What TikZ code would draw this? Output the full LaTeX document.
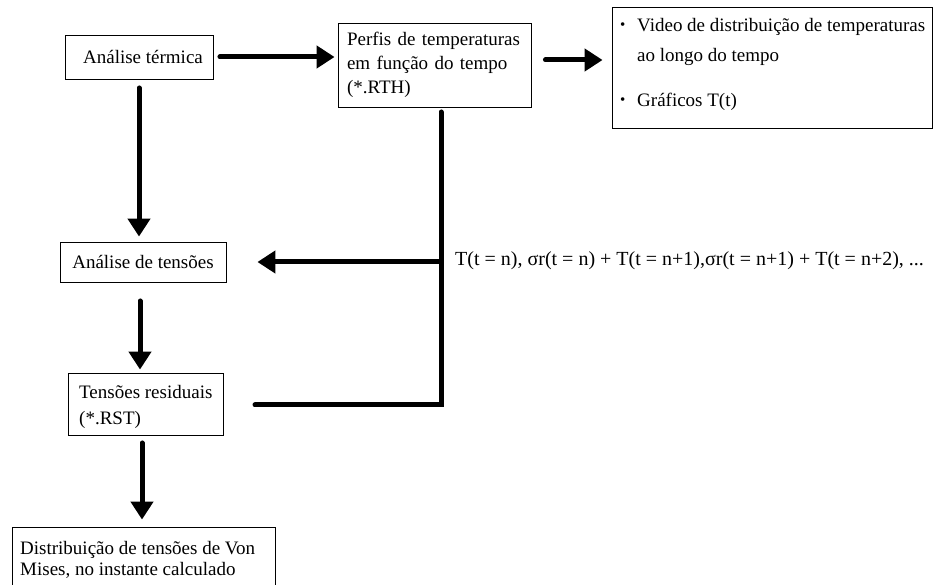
\documentclass[tikz,border=0pt]{standalone}
\usepackage{fontspec}
\setmainfont{Liberation Serif}
\usetikzlibrary{arrows.meta,calc}

\newcommand{\itemdot}{{\fontsize{15}{15}\selectfont\raisebox{2.5pt}{•}}}

\begin{document}
\begin{tikzpicture}[x=1pt,y=-1pt,
  every node/.style={font=\fontsize{19}{24}\selectfont},
  box/.style={draw, line width=0.9pt, rectangle, inner sep=0pt},
  boxtext/.style={anchor=north west, inner sep=0pt, align=left},
  flow/.style={line width=5pt, line cap=round,
    -{Triangle[length=18pt,width=22pt]}},
  link/.style={line width=5pt, line cap=round, line join=miter}]

  % canvas
  \useasboundingbox[fill=white] (0,0) rectangle (935,585);

  % boxes
  \node[box, minimum width=148pt, minimum height=44pt] (at) at (139,57)
        {\hspace*{8pt}Análise térmica};
  \node[box, minimum width=193pt, minimum height=84pt, text width=175pt, align=left,
        inner xsep=9pt] (perf) at (434.5,65)
        {Perfis de temperaturas\\em função do tempo\\(*.RTH)};
  \node[box, minimum width=320pt, minimum height=121pt] (out) at (772,67.5) {};
  \node[boxtext] (outtext) at (620,15)
        {\begin{tabular}{@{}p{17pt}@{}l@{}}
           \itemdot & Video de distribuição de temperaturas\\[6pt]
                    & ao longo do tempo\\[21pt]
           \itemdot & Gráficos T(t)
         \end{tabular}};
  \node[box, minimum width=166pt, minimum height=40pt] (ast) at (143,262) {Análise de tensões};
  \node[box, minimum width=155pt, minimum height=62pt] (trs) at (145.5,404) {};
  \node[boxtext, font=\fontsize{19}{26}\selectfont] (trstext) at (79,385)
        {Tensões residuais\\(*.RST)};
  \node[box, minimum width=263pt, minimum height=70pt] (vm) at (143.5,562) {};
  \node[boxtext, font=\fontsize{19}{21}\selectfont] (vmtext) at (20,541)
        {Distribuição de tensões de Von\\Mises, no instante calculado};

  % label on the feedback arrow
  \node[anchor=west, inner sep=0pt, font=\fontsize{20}{24}\selectfont] (lbl) at (455,261)
        {T(t = n), σr(t = n) + T(t = n+1),σr(t = n+1) + T(t = n+2), ...};

  % junction points of the feedback loop
  \coordinate (jtop) at (441,112);
  \coordinate (jmid) at (441,262);
  \coordinate (jbot) at (441,405);
  \coordinate (rstart) at (255,405);

  % main flow
  \draw[flow, shorten <=6.5pt, shorten >=3pt] (at.east) -- (at.east -| perf.west);
  \draw[flow, shorten <=14pt, shorten >=9pt] ($(perf.east)+(0,-5)$) -- ($(out.west)+(0,-7.5)$);
  \draw[flow, shorten <=8.5pt, shorten >=5pt] (at.south) -- (at.south |- ast.north);
  \draw[flow, shorten <=18.5pt, shorten >=3pt] ($(ast.south)+(-3,0)$) -- ($(trs.north)+(-5.5,0)$);
  \draw[flow, shorten <=7.5pt, shorten >=7pt] ($(trs.south)+(-3.5,0)$) -- ($(vm.north)+(-1.5,0)$);

  % feedback loop
  \draw[link] (rstart) -- (jbot) -- (jtop);
  \draw[flow, line cap=butt, shorten >=31pt] (jmid) -- (jmid -| ast.east);
\end{tikzpicture}
\end{document}
